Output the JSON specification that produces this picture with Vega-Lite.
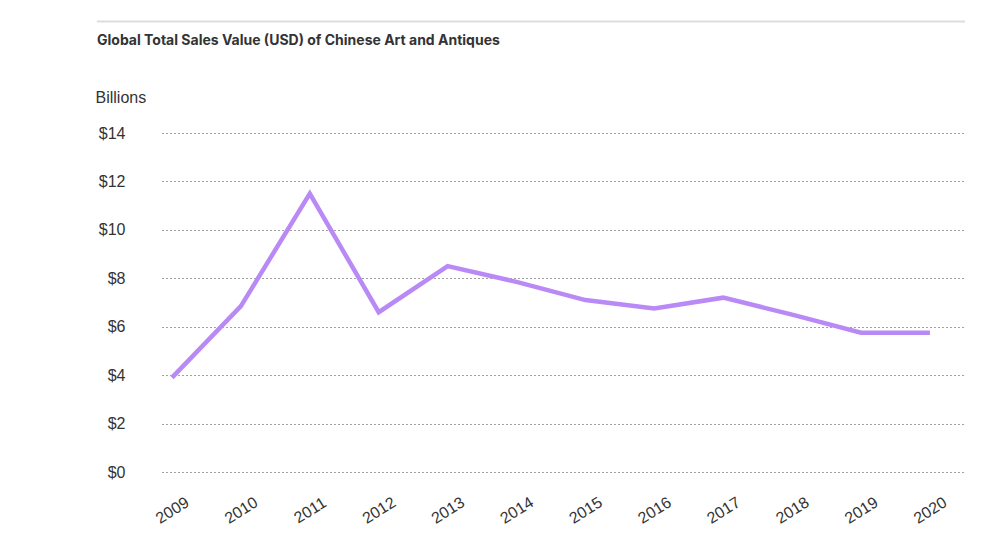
{
  "$schema": "https://vega.github.io/schema/vega-lite/v6.json",
  "autosize": "none",
  "width": 803,
  "height": 339,
  "padding": {"left": 162, "top": 133, "right": 35, "bottom": 73},
  "background": "white",
  "title": {
    "text": "Global Total Sales Value (USD) of Chinese Art and Antiques",
    "anchor": "start",
    "frame": "group",
    "dx": -65,
    "offset": -27,
    "font": "Inter",
    "fontSize": 14,
    "fontWeight": "bold",
    "color": "#333333"
  },
  "config": {
    "view": {"stroke": null},
    "axis": {"domain": false, "ticks": false}
  },
  "datasets": {
    "sales": [
      {"year": 2009, "value": 3.9},
      {"year": 2010, "value": 6.85},
      {"year": 2011, "value": 11.5},
      {"year": 2012, "value": 6.6},
      {"year": 2013, "value": 8.5},
      {"year": 2014, "value": 7.85},
      {"year": 2015, "value": 7.1},
      {"year": 2016, "value": 6.75},
      {"year": 2017, "value": 7.2},
      {"year": 2018, "value": 6.5},
      {"year": 2019, "value": 5.75},
      {"year": 2020, "value": 5.75}
    ],
    "topline": [
      {"y": 18.6, "xstart": 2007.91, "xend": 2020.509}
    ]
  },
  "layer": [
    {
      "data": {"name": "sales"},
      "mark": {"type": "line", "color": "#b98af6", "strokeWidth": 4.5, "strokeJoin": "miter"},
      "encoding": {
        "x": {
          "field": "year",
          "type": "quantitative",
          "scale": {"domain": [2008.855, 2020.509], "nice": false, "zero": false},
          "axis": {
            "values": [2009, 2010, 2011, 2012, 2013, 2014, 2015, 2016, 2017, 2018, 2019, 2020],
            "format": "d",
            "title": null,
            "grid": false,
            "labelAngle": -32,
            "labelAlign": "center",
            "labelBaseline": "middle",
            "labelPadding": 38,
            "labelFont": "Liberation Sans",
            "labelFontSize": 16,
            "labelColor": "#333333",
            "labelFlush": false,
            "labelOverlap": false
          }
        },
        "y": {
          "field": "value",
          "type": "quantitative",
          "scale": {"domain": [0, 14], "nice": false},
          "axis": {
            "values": [0, 2, 4, 6, 8, 10, 12, 14],
            "format": "$d",
            "title": "Billions",
            "titleAngle": 0,
            "titleAlign": "left",
            "titleBaseline": "middle",
            "titleX": -67,
            "titleY": -36,
            "titleFont": "Liberation Sans",
            "titleFontSize": 16,
            "titleFontWeight": "normal",
            "titleColor": "#333333",
            "labelFont": "Liberation Sans",
            "labelFontSize": 16,
            "labelColor": "#333333",
            "labelPadding": 37,
            "grid": true,
            "gridColor": "#444444",
            "gridDash": [1, 3],
            "gridWidth": 1.2
          }
        }
      }
    },
    {
      "data": {"name": "topline"},
      "mark": {"type": "rule", "color": "#dddddd", "strokeWidth": 2, "clip": false},
      "encoding": {
        "x": {"field": "xstart", "type": "quantitative"},
        "x2": {"field": "xend"},
        "y": {"field": "y", "type": "quantitative"}
      }
    }
  ]
}
